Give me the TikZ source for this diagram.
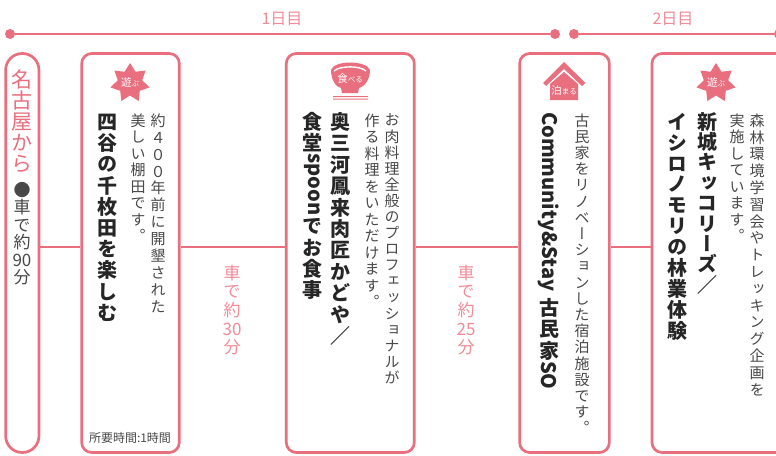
\documentclass[tikz,border=0pt]{standalone}
\usepackage{fontspec}
\usepackage{graphicx}
\usetikzlibrary{shapes.geometric}
\newfontfamily\tatefont[RawFeature=+vert]{Noto Sans CJK JP}
\newfontfamily\yokofont{Noto Sans CJK JP}
\definecolor{rosa}{HTML}{E96F7F}
\definecolor{rosalight}{HTML}{F28B98}
\definecolor{ink}{HTML}{484848}
\makeatletter
% one character per line, every line as high as \tatepitch
\newcommand{\tateitem}{\vbox to \tatepitch{\vss\hbox to 1em{\hss\vrule height .88em depth .12em width 0pt\tatechar\hss}\vss}}
\newcommand{\tatelist}[1]{\@tfor\tatechar:=#1\do{\tateitem}}
\newcommand{\tate}[1]{\vbox{\offinterlineskip\tatelist{#1}}}
\makeatother
\newcommand{\sideways}[1]{\hbox to 1em{\hss\rotatebox{-90}{#1}\hss}}
\newcommand{\smallkana}[1]{{\fontsize{7.5}{7.5}\selectfont #1}}
\tikzset{
  card/.style={draw=rosa, line width=2.7pt, fill=white, rounded corners=10pt, minimum height=399pt},
  link/.style={draw=rosa, line width=2.4pt},
  dayline/.style={draw=rosa, line width=1.4pt},
  daydot/.style={circle, fill=rosa, inner sep=0pt, minimum size=10pt},
  daylabel/.style={text=rosalight, font=\yokofont\fontsize{16}{16}\selectfont},
  desc/.style={anchor=north, inner sep=0pt, text=ink, font=\tatefont\fontsize{15}{15}\selectfont\def\tatepitch{16.5pt}},
  head/.style={anchor=north, inner sep=0pt, text=black!85, font=\tatefont\bfseries\fontsize{20}{20}\selectfont\def\tatepitch{21.2pt}},
  ride/.style={anchor=north, inner sep=0pt, text=rosalight, font=\tatefont\fontsize{17}{17}\selectfont\def\tatepitch{18.7pt}},
  from/.style={anchor=north, inner sep=0pt, text=ink, font=\tatefont\fontsize{17}{17}\selectfont\def\tatepitch{17.5pt}},
  tag/.style={text=white, inner sep=0pt, font=\yokofont\fontsize{10.5}{10.5}\selectfont},
  blast/.style={star, star points=7, star point ratio=1.6, fill=rosa, inner sep=0pt, minimum size=40pt},
}
\begin{document}
\begin{tikzpicture}[x=1pt,y=-1pt]
\useasboundingbox (0,0) rectangle (776,455);
\clip (0,0) rectangle (776,455);
% day line
\node[daydot] (startone) at (10,34) {};
\node[daydot] (endone) at (555,34) {};
\node[daydot] (starttwo) at (574,34) {};
\node[daydot] (endtwo) at (779,34) {};
\draw[dayline] (startone) -- (endone);
\draw[dayline] (starttwo) -- (endtwo);
\node[daylabel] (dayone) at (282,19) {1日目};
\node[daylabel] (daytwo) at (673,19) {2日目};
% cards
\node[card, rounded corners=16.5pt, minimum width=33.3pt] (nagoya) at (22.3,253) {};
\node[card, minimum width=97.6pt] (tanada) at (130.5,253) {};
\node[card, minimum width=128pt] (kadoya) at (350.3,253) {};
\node[card, minimum width=89.7pt] (koson) at (564.5,253) {};
\node[card, minimum width=180pt] (kikori) at (742,253) {};
\draw[link] ([yshift=6pt]nagoya.east) -- ([yshift=6pt]tanada.west);
\draw[link] ([yshift=6pt]tanada.east) -- ([yshift=6pt]kadoya.west);
\draw[link] ([yshift=6pt]kadoya.east) -- ([yshift=6pt]koson.west);
\draw[link] ([yshift=6pt]koson.east) -- ([yshift=6pt]kikori.west);
% start
\node[anchor=north, inner sep=0pt, text=rosa, font=\tatefont\fontsize{21}{21}\selectfont\def\tatepitch{21pt}] (fromname) at (22,69) {\tate{名古屋から}};
\node[from] (fromride) at (22,181) {\tate{●車で約{90}分}};
% rides
\node[ride] (ridea) at (232,263) {\tate{車で約{30}分}};
\node[ride] (rideb) at (466,263) {\tate{車で約{25}分}};
% first card
\node[blast] (stara) at (130,83) {};
\node[tag] (stara text) at (130,82) {遊\smallkana{ぶ}};
\node[desc] (tanadaone) at (158,112) {\def\tatepitch{16.9pt}\tate{約４００年前に開墾された}};
\node[desc] (tanadatwo) at (138,112) {\tate{美しい棚田です。}};
\node[head] (tanadahead) at (107,111) {\tate{四谷の千枚田を楽しむ}};
\node[inner sep=0pt, text=ink, font=\yokofont\fontsize{12}{12}\selectfont] (tanadatime) at (130,438) {所要時間:1時間};
% second card
\fill[rosa] (331,70) .. controls (334,60) and (366,60) .. (370,70) .. controls (370,80) and (364,87) .. (359,88) -- (358,93) -- (342,93) -- (341,88) .. controls (336,87) and (331,80) .. (331,70) -- cycle;
\draw[white, line width=1.4pt] (334,71) .. controls (340,65.5) and (360,65.5) .. (366,71);
\fill[rosa] (333,96) rectangle (368,97) (333,98.5) rectangle (368,99.5);
\node[tag] (bowl text) at (350,79) {食\smallkana{べる}};
\node[desc] (kadoyaone) at (392,112) {\def\tatepitch{16.1pt}\tate{お肉料理全般のプロフェッショナルが}};
\node[desc] (kadoyatwo) at (372,112) {\tate{作る料理をいただけます。}};
\node[head] (kadoyahead) at (340,111) {\def\tatepitch{21.4pt}\tate{奥三河鳳来肉匠かどや／}};
\node[head] (kadoyaheadtwo) at (312,111) {\vbox{\offinterlineskip\tatelist{食堂}\sideways{spoon}\tatelist{でお食事}}};
% third card
\fill[rosa] (564,62) -- (585.5,83) -- (582,86) -- (564,69) -- (546,86) -- (543,83) -- cycle;
\fill[rosa] (564,72) -- (578,84) -- (578,100) -- (550,100) -- (550,84) -- cycle;
\node[tag] (house text) at (564,90.5) {泊\smallkana{まる}};
\node[desc] (kosonone) at (582,112) {\def\tatepitch{16.2pt}\tate{古民家をリノベーションした宿泊施設です。}};
\node[head] (kosonhead) at (549,112) {\vbox{\offinterlineskip\sideways{Community\&Stay}\vskip 6pt\tatelist{古民家}\sideways{SO}}};
% fourth card
\node[blast] (starb) at (716,83) {};
\node[tag] (starb text) at (716,82) {遊\smallkana{ぶ}};
\node[desc] (kikorione) at (757,112) {\def\tatepitch{16.8pt}\tate{森林環境学習会やトレッキング企画を}};
\node[desc] (kikoritwo) at (737,112) {\tate{実施しています。}};
\node[head] (kikorihead) at (707,111) {\def\tatepitch{20.4pt}\tate{新城キッコリーズ／}};
\node[head] (kikoriheadtwo) at (677,111) {\def\tatepitch{20.9pt}\tate{イシロノモリの林業体験}};
\end{tikzpicture}
\end{document}
